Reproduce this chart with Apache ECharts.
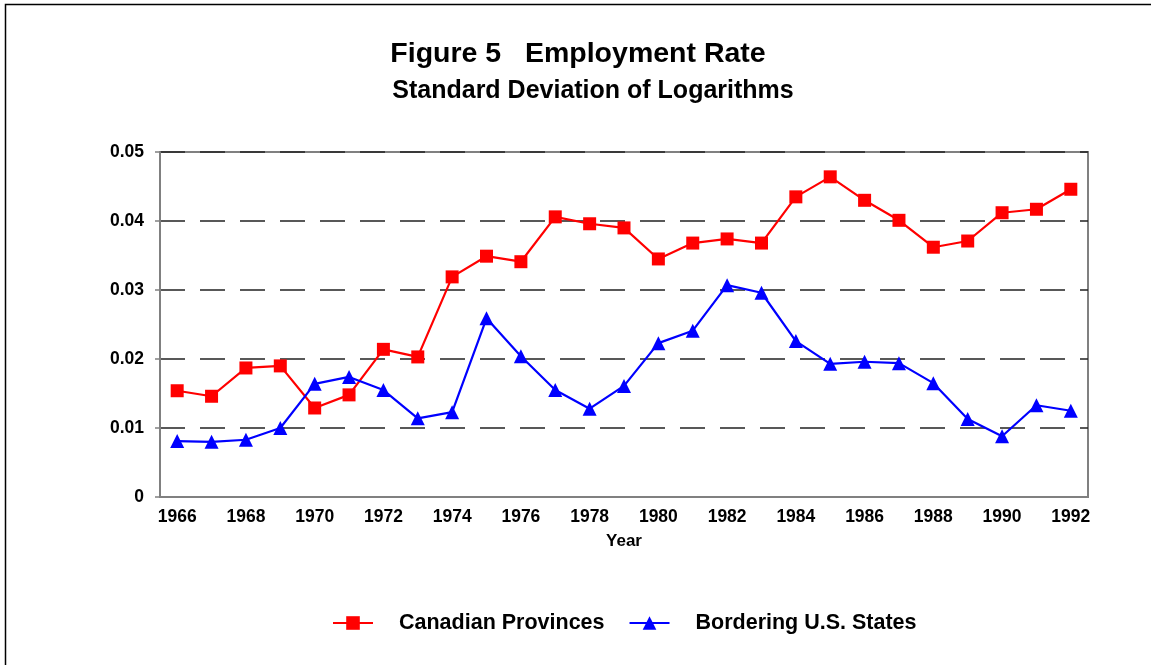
<!DOCTYPE html>
<html>
<head>
<meta charset="utf-8">
<script src="https://cdn.jsdelivr.net/npm/echarts@6/dist/echarts.min.js"></script>
<style>
  html, body { margin: 0; padding: 0; background: #fff; }
  #container { width: 1151px; height: 665px; }
</style>
</head>
<body>
<div id="container"></div>
<script>
let chart = echarts.init(document.getElementById('container'));

var years = ['1966','1967','1968','1969','1970','1971','1972','1973','1974','1975',
    '1976','1977','1978','1979','1980','1981','1982','1983','1984','1985',
    '1986','1987','1988','1989','1990','1991','1992'];
var canadian = [0.0154, 0.0146, 0.0187, 0.0190, 0.0129, 0.0148, 0.0214, 0.0203, 0.0319, 0.0349,
    0.0341, 0.0406, 0.0396, 0.0390, 0.0345, 0.0368, 0.0374, 0.0368, 0.0435, 0.0464,
    0.0430, 0.0401, 0.0362, 0.0371, 0.0412, 0.0417, 0.0446];
var bordering = [0.0081, 0.0080, 0.0083, 0.0100, 0.0164, 0.0174, 0.0155, 0.0114, 0.0123, 0.0259,
    0.0204, 0.0155, 0.0128, 0.0161, 0.0223, 0.0241, 0.0307, 0.0296, 0.0226, 0.0193,
    0.0196, 0.0194, 0.0165, 0.0113, 0.0088, 0.0133, 0.0125];
var yTicks = ['0', '0.01', '0.02', '0.03', '0.04', '0.05'];

var font = '"Liberation Sans", Arial, sans-serif';

var option = {
    animation: false,
    backgroundColor: '#fff',
    textStyle: { fontFamily: font },
    title: [{
        text: 'Figure 5   Employment Rate',
        left: 573,
        top: 35,
        textAlign: 'center',
        textStyle: { fontSize: 28.5, fontWeight: 'bold', color: '#000', fontFamily: font }
    }, {
        text: 'Standard Deviation of Logarithms',
        left: 588,
        top: 74,
        textAlign: 'center',
        textStyle: { fontSize: 25, fontWeight: 'bold', color: '#000', fontFamily: font }
    }],
    graphic: [{
        type: 'rect',
        shape: { x: 5.5, y: 4.5, width: 1300, height: 800 },
        style: { fill: 'none', stroke: '#000', lineWidth: 1.5 },
        silent: true
    }],
    legend: {
        data: ['Canadian Provinces', 'Bordering U.S. States'],
        top: 607,
        left: 327,
        itemWidth: 40,
        itemHeight: 17,
        itemGap: 24,
        textStyle: { fontSize: 21.5, fontWeight: 'bold', color: '#000', fontFamily: font, padding: [0, 0, 0, 21] }
    },
    grid: {
        left: 160,
        right: 63,
        top: 152,
        bottom: 168,
        show: true,
        borderColor: '#808080',
        borderWidth: 2,
        backgroundColor: 'transparent'
    },
    xAxis: {
        type: 'category',
        data: years,
        boundaryGap: true,
        name: 'Year',
        nameLocation: 'middle',
        nameGap: 36,
        nameTextStyle: { fontSize: 17, fontWeight: 'bold', color: '#000' },
        axisLine: { lineStyle: { color: '#808080', width: 2 } },
        axisTick: { alignWithLabel: true, interval: 0, length: 6, lineStyle: { color: '#808080', width: 1.5 } },
        axisLabel: { interval: 1, fontSize: 17.5, fontWeight: 'bold', color: '#000', margin: 11 },
        splitLine: { show: false }
    },
    yAxis: {
        type: 'value',
        min: 0,
        max: 0.05,
        interval: 0.01,
        axisLine: { show: true, lineStyle: { color: '#808080', width: 2 } },
        axisTick: { show: true, length: 5, lineStyle: { color: '#808080', width: 1.5 } },
        axisLabel: {
            fontSize: 17.5, fontWeight: 'bold', color: '#000', margin: 16,
            formatter: function (v) { return yTicks[Math.round(v * 100)]; }
        },
        splitLine: { show: true, lineStyle: { color: '#222', width: 1.5, type: [25, 15] } }
    },
    series: [{
        name: 'Canadian Provinces',
        type: 'line',
        data: canadian,
        symbol: 'rect',
        symbolSize: 13,
        itemStyle: { color: '#ff0000' },
        lineStyle: { color: '#ff0000', width: 2.2 }
    }, {
        name: 'Bordering U.S. States',
        type: 'line',
        data: bordering,
        symbol: 'triangle',
        symbolSize: 14,
        itemStyle: { color: '#0000ff' },
        lineStyle: { color: '#0000ff', width: 2.2 }
    }]
};

chart.setOption(option);
</script>
</body>
</html>
